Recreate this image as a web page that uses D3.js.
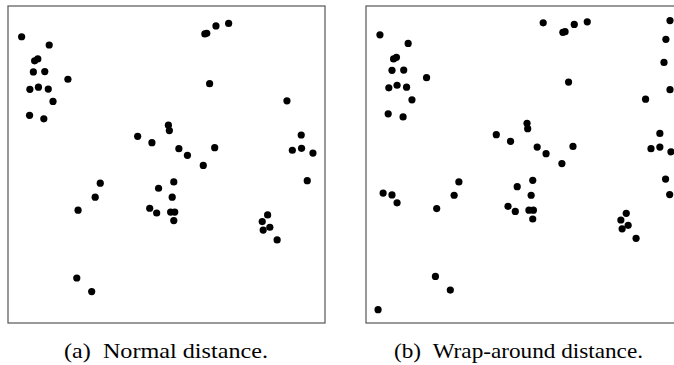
<!DOCTYPE html>
<html>
<head>
<meta charset="utf-8">
<script src="https://cdn.jsdelivr.net/npm/d3@7"></script>
<style>
  html, body { margin: 0; padding: 0; background: #fff; }
  svg { display: block; }
</style>
</head>
<body>
<svg id="chart" width="674" height="365"></svg>
<script>
// Point sets in unit-square coordinates (0–100 on both axes, y up).
const normalX = [4.3, 13.0, 8.4, 9.4, 8.0, 11.6, 18.9, 6.9, 9.6, 12.7, 14.2, 6.8, 11.3,
  62.1, 62.7, 65.6, 69.6, 63.6, 88.0, 50.6, 50.9, 40.9, 45.4, 53.9, 56.6, 65.2, 61.6,
  92.5, 89.7, 92.6, 96.2, 29.1, 27.5, 22.1, 47.5, 52.3, 51.8, 44.7, 46.9, 51.3, 52.6, 52.3,
  94.4, 81.9, 80.2, 82.6, 80.5, 84.9, 21.7, 26.4];
const normalY = [90.3, 87.7, 82.7, 83.3, 79.2, 79.3, 76.9, 73.7, 74.4, 73.8, 69.9, 65.5, 64.4,
  91.2, 91.4, 93.7, 94.5, 75.5, 70.1, 62.4, 60.7, 58.9, 56.9, 55.0, 52.9, 55.3, 49.7,
  59.3, 54.5, 55.1, 53.6, 44.1, 39.7, 35.6, 42.5, 44.5, 39.7, 36.2, 34.7, 35.0, 35.0, 32.3,
  44.9, 34.1, 32.0, 30.2, 29.3, 26.2, 14.2, 9.9];

const wrapX = [4.4, 13.3, 8.7, 9.6, 8.2, 11.9, 19.1, 7.2, 9.8, 12.8, 14.5, 7.0, 11.7,
  55.9, 62.1, 62.8, 65.7, 69.8, 63.9, 88.2, 95.9, 94.6, 94.0, 95.9,
  50.8, 51.0, 41.1, 45.6, 54.0, 56.8, 65.3, 61.8, 92.7, 89.9, 92.7, 96.2,
  5.4, 8.2, 9.8, 29.3, 27.8, 22.3, 47.7, 52.6, 52.1, 44.8, 47.1, 51.4, 52.8, 52.6,
  94.5, 95.8, 82.1, 80.4, 82.7, 80.8, 85.2, 21.9, 26.6, 3.8];
const wrapY = [90.9, 88.2, 83.3, 83.8, 79.7, 79.8, 77.4, 74.2, 75.0, 74.4, 70.4, 66.0, 65.0,
  94.7, 91.7, 91.9, 94.2, 95.0, 76.0, 70.6, 95.4, 89.5, 82.2, 73.6,
  63.0, 61.3, 59.4, 57.3, 55.5, 53.4, 55.7, 50.3, 59.8, 55.0, 55.5, 54.0,
  41.0, 40.4, 37.9, 44.5, 40.3, 36.1, 43.0, 45.0, 40.3, 36.8, 35.2, 35.6, 35.6, 32.8,
  45.4, 40.5, 34.6, 32.5, 30.8, 29.7, 26.7, 14.7, 10.4, 4.2];

const captions = ["(a)\u2002Normal distance.", "(b)\u2002Wrap-around distance."];

const panels = [
  { left: 8,   xs: normalX, ys: normalY, caption: captions[0], capX: 64,  capW: 204 },
  { left: 366, xs: wrapX,   ys: wrapY,   caption: captions[1], capX: 394, capW: 249 }
];

const svg = d3.select("#chart");
const boxSize = 317, boxTop = 6;

panels.forEach(p => {
  const x = d3.scaleLinear().domain([0, 100]).range([p.left, p.left + boxSize]);
  const y = d3.scaleLinear().domain([0, 100]).range([boxTop + boxSize, boxTop]);

  const g = svg.append("g");

  g.append("rect")
    .attr("x", x(0)).attr("y", y(100))
    .attr("width", x(100) - x(0)).attr("height", y(0) - y(100))
    .attr("fill", "none")
    .attr("stroke", "#555")
    .attr("stroke-width", 1.2);

  g.selectAll("circle")
    .data(d3.zip(p.xs, p.ys))
    .join("circle")
    .attr("cx", d => x(d[0]))
    .attr("cy", d => y(d[1]))
    .attr("r", 3.6)
    .attr("fill", "#000");

  // Sub-figure caption, stretched to the serif's wide set width
  svg.append("text")
    .attr("x", p.capX)
    .attr("y", 358)
    .attr("textLength", p.capW)
    .attr("lengthAdjust", "spacingAndGlyphs")
    .attr("font-family", "'Liberation Serif', 'DejaVu Serif', serif")
    .attr("font-size", 21)
    .attr("fill", "#000")
    .text(p.caption);
});
</script>
</body>
</html>
